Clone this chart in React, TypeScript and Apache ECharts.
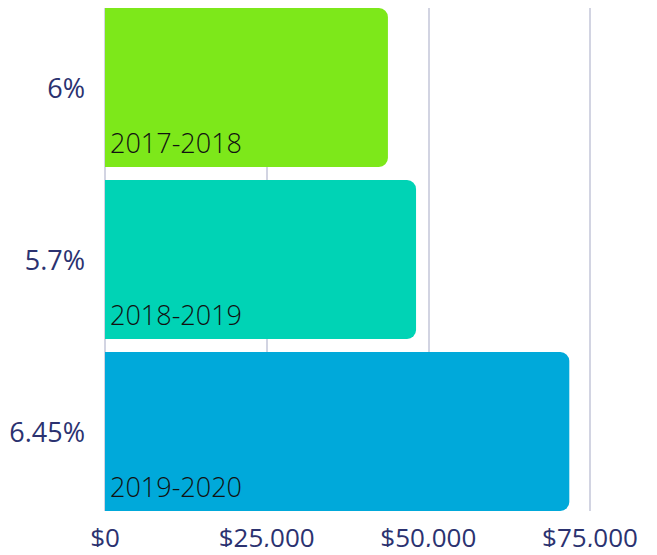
import React, { useEffect, useRef } from "react";
import * as echarts from "echarts";

const rates = ["6%", "5.7%", "6.45%"];
const periods = ["2017-2018", "2018-2019", "2019-2020"];
const amounts = [43750, 48100, 71800];
const colors = ["#7DE81A", "#00D3B5", "#00A9DA"];
const xTicks = [0, 25000, 50000, 75000];

const fmtMoney = (v: number) => "$" + v.toLocaleString("en-US");

export default function App() {
  const ref = useRef<HTMLDivElement>(null);
  useEffect(() => {
    if (!ref.current) return;
    const chart = echarts.init(ref.current, null, { renderer: "svg" });
    const font = "'Open Sans', sans-serif";
    chart.setOption({
      animation: false,
      grid: [
        { left: 105, right: 67, top: 1.5, bottom: 37.5 },
        { left: 105, right: 67, top: 8, bottom: 44 },
      ],
      xAxis: [
        {
          gridIndex: 0,
          type: "value",
          min: xTicks[0],
          max: xTicks[xTicks.length - 1],
          interval: 25000,
          axisLine: { show: false },
          axisTick: { show: false },
          axisLabel: { show: false },
          splitLine: { show: false },
        },
        {
          gridIndex: 1,
          type: "value",
          min: xTicks[0],
          max: xTicks[xTicks.length - 1],
          interval: 25000,
          axisLine: { show: false },
          axisTick: { show: false },
          axisLabel: {
            color: "#2B3270",
            fontSize: 26,
            fontFamily: font,
            margin: 13,
            formatter: (v: number) => fmtMoney(v),
          },
          splitLine: { show: true, lineStyle: { color: "#D2D4E2", width: 2 } },
        },
      ],
      yAxis: [
        {
          gridIndex: 0,
          type: "category",
          data: rates,
          inverse: true,
          axisLine: { show: false },
          axisTick: { show: false },
          axisLabel: {
            color: "#2B3270",
            fontSize: 27,
            fontFamily: font,
            margin: 20,
          },
        },
        {
          gridIndex: 1,
          type: "value",
          show: false,
          min: 0,
          max: 1,
        },
      ],
      series: [
        {
          type: "bar",
          xAxisIndex: 0,
          yAxisIndex: 0,
          barCategoryGap: "7.6%",
          data: amounts.map((v, i) => ({
            value: v,
            itemStyle: { color: colors[i], borderRadius: [0, 9, 9, 0] },
          })),
          label: {
            show: true,
            position: "insideBottomLeft",
            distance: 5,
            offset: [0, -6],
            color: "#111111",
            fontSize: 27,
            fontWeight: 300,
            fontFamily: font,
            formatter: (p: any) => periods[p.dataIndex],
          },
        },
      ],
    });
    return () => chart.dispose();
  }, []);
  return <div ref={ref} style={{ width: 657, height: 555, margin: -8 }} />;
}
